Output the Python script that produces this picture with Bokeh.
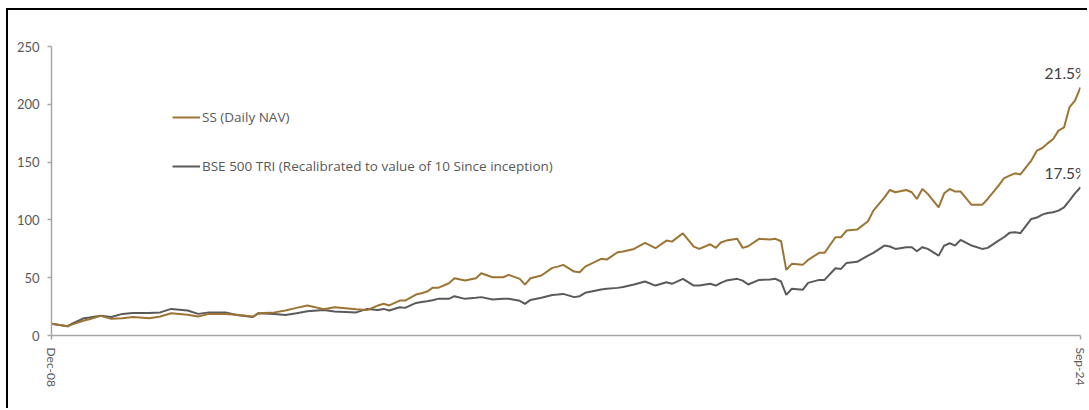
from datetime import datetime
import pandas as pd
from bokeh.plotting import figure
from bokeh.models import (Range1d, FixedTicker, DatetimeTickFormatter, Legend, LegendItem,
                          Label, ColumnDataSource)
from bokeh.embed import file_html
from bokeh.resources import INLINE

# ---- data ----
dates = ["2008-12", "2009-03", "2009-04", "2009-06", "2009-07", "2009-09", "2009-11",
         "2010-01", "2010-03", "2010-06", "2010-08", "2010-10", "2011-01", "2011-03",
         "2011-05", "2011-08", "2011-10", "2012-01", "2012-02", "2012-05", "2012-07",
         "2012-09", "2012-11", "2013-02", "2013-04", "2013-08", "2013-10", "2013-12",
         "2014-01", "2014-02", "2014-04", "2014-05", "2014-07", "2014-08", "2014-09",
         "2014-10", "2014-11", "2015-01", "2015-02", "2015-04", "2015-06", "2015-07",
         "2015-09", "2015-11", "2015-12", "2016-02", "2016-03", "2016-04", "2016-06",
         "2016-08", "2016-09", "2016-10", "2016-12", "2017-01", "2017-02", "2017-05",
         "2017-06", "2017-08", "2017-09", "2017-11", "2018-01", "2018-03", "2018-05",
         "2018-06", "2018-08", "2018-10", "2018-11", "2019-01", "2019-02", "2019-03",
         "2019-04", "2019-06", "2019-07", "2019-08", "2019-10", "2019-12", "2020-01",
         "2020-02", "2020-03", "2020-04", "2020-06", "2020-07", "2020-09", "2020-10",
         "2020-12", "2021-01", "2021-02", "2021-04", "2021-06", "2021-07", "2021-09",
         "2021-10", "2021-11", "2022-01", "2022-02", "2022-03", "2022-04", "2022-05",
         "2022-07", "2022-08", "2022-09", "2022-10", "2022-11", "2023-01", "2023-03",
         "2023-04", "2023-06", "2023-07", "2023-08", "2023-09", "2023-10", "2023-12",
         "2024-01", "2024-02", "2024-03", "2024-04", "2024-05", "2024-06", "2024-07",
         "2024-08", "2024-09"]

ss_nav = [10.1, 8.1, 9.8, 13.0, 14.0, 17.0, 14.4,
          15.0, 16.0, 15.0, 16.5, 19.3, 18.0, 16.4,
          18.7, 18.7, 18.0, 16.4, 19.3, 20.0, 21.6,
          23.9, 26.0, 22.8, 24.5, 22.8, 22.0, 26.0,
          27.4, 26.0, 30.2, 30.2, 35.4, 36.6, 38.0,
          41.2, 41.2, 45.2, 49.5, 47.5, 49.5, 53.9,
          50.4, 50.4, 52.4, 49.0, 44.0, 49.5, 51.9,
          58.5, 59.6, 61.1, 55.3, 54.7, 59.6, 66.3,
          65.7, 72.0, 72.6, 74.9, 80.1, 75.5, 82.1,
          81.2, 88.4, 76.9, 74.9, 78.9, 75.8, 80.4,
          82.1, 83.6, 75.8, 77.2, 83.6, 83.0, 83.6,
          81.5, 56.8, 62.0, 61.1, 65.4, 71.5, 71.5,
          85.0, 85.0, 90.8, 91.6, 98.8, 108.0, 119.5,
          125.9, 123.9, 125.9, 123.9, 118.1, 126.8, 122.5,
          110.9, 123.0, 126.8, 124.5, 124.5, 113.0, 113.0,
          118.1, 129.6, 136.0, 138.3, 140.3, 139.3, 151.3,
          159.9, 162.2, 166.2, 170.0, 177.2, 180.0, 197.3,
          203.1, 214.6]

bse500_tri = [10.1, 8.0, 10.6, 15.0, 15.5, 17.0, 16.0,
              18.7, 19.5, 19.5, 20.0, 23.0, 21.6, 18.7,
              20.0, 20.0, 17.7, 16.0, 19.3, 18.7, 17.7,
              19.3, 21.0, 22.0, 20.7, 20.0, 23.0, 22.0,
              23.0, 21.6, 24.5, 23.9, 28.2, 29.0, 29.7,
              30.5, 31.7, 31.7, 34.0, 31.7, 32.6, 33.2,
              31.1, 31.7, 31.7, 30.0, 27.4, 30.8, 32.6,
              35.1, 35.5, 36.0, 33.2, 34.0, 36.9, 39.8,
              40.5, 41.2, 42.0, 44.1, 46.7, 43.2, 46.1,
              44.7, 49.0, 43.2, 43.2, 44.7, 43.2, 45.5,
              47.5, 49.0, 47.5, 44.1, 48.1, 48.5, 49.0,
              46.7, 35.2, 40.4, 39.5, 45.5, 48.1, 48.1,
              58.2, 57.6, 62.8, 63.7, 69.1, 71.5, 77.8,
              77.0, 74.9, 76.4, 76.4, 72.9, 76.4, 74.9,
              69.1, 77.8, 79.8, 77.8, 82.7, 77.8, 74.9,
              75.8, 82.1, 85.0, 88.8, 89.4, 88.5, 100.8,
              102.0, 104.6, 106.0, 106.6, 108.0, 110.9, 116.7,
              123.0, 128.2]

series_names = ["SS (Daily NAV)", "BSE 500 TRI (Recalibrated to value of 10 Since inception)"]
end_labels = ["21.5%", "17.5%"]
x_tick_dates = ["2008-12", "2024-09"]
y_ticks = [0, 50, 100, 150, 200, 250]

GOLD = "#9C7434"
GREY = "#5A5A5A"
TXT = "#595959"
FONT = "Lato"

x = pd.to_datetime(dates)
src = ColumnDataSource(dict(x=x, ss=ss_nav, bse=bse500_tri))

p = figure(width=1081, height=400, x_axis_type="datetime",
           output_backend="svg", toolbar_location=None,
           min_border_left=43, min_border_right=9, min_border_top=36, min_border_bottom=75)
p.styles = {"margin-left": "6px", "margin-top": "8px",
            "border-top": "2px solid #000000", "border-left": "2px solid #000000"}
p.x_range = Range1d(pd.Timestamp(x_tick_dates[0]), pd.Timestamp(x_tick_dates[1]))
p.y_range = Range1d(0, 250)
p.outline_line_color = None
p.grid.visible = False
p.background_fill_color = "white"
p.border_fill_color = "white"

r_bse = p.line("x", "bse", source=src, line_color=GREY, line_width=2)
r_ss = p.line("x", "ss", source=src, line_color=GOLD, line_width=2)

# axes
tick_ms = [pd.Timestamp(d).value / 1e6 for d in x_tick_dates]
p.xaxis.ticker = FixedTicker(ticks=tick_ms)
fmt = "%b-%y"
p.xaxis.formatter = DatetimeTickFormatter(years=fmt, months=fmt, days=fmt, hours=fmt,
                                          minutes=fmt, seconds=fmt, milliseconds=fmt,
                                          microseconds=fmt, minsec=fmt, hourmin=fmt)
p.xaxis.major_label_orientation = "vertical"
p.yaxis.ticker = FixedTicker(ticks=y_ticks)
for ax in (p.xaxis[0], p.yaxis[0]):
    ax.axis_line_color = "#A6A6A6"
    ax.axis_line_width = 1.5
    ax.major_tick_line_color = "#A6A6A6"
    ax.major_tick_line_width = 1.5
    ax.major_tick_out = 4
    ax.major_tick_in = 0
    ax.minor_tick_line_color = None
    ax.major_label_text_color = TXT
    ax.major_label_text_font = FONT
    ax.major_label_standoff = 8
p.yaxis.major_label_text_font_size = "13px"
p.xaxis.major_label_text_font_size = "12px"

# legend
legend = Legend(items=[LegendItem(label=series_names[0], renderers=[r_ss]),
                       LegendItem(label=series_names[1], renderers=[r_bse])],
                location=(121, 159), orientation="vertical")
legend.border_line_color = None
legend.background_fill_alpha = 0
legend.padding = 0
legend.margin = 0
legend.spacing = 29
legend.glyph_width = 28
legend.glyph_height = 20
legend.label_height = 20
legend.label_standoff = 2
legend.label_text_font = "Open Sans"
legend.label_text_font_size = "13.5px"
legend.label_text_color = TXT
p.add_layout(legend, "center")

# end-of-series labels (kept fully inside the page)
end_x = x[-1]
for val, txt in ((ss_nav[-1], end_labels[0]), (bse500_tri[-1], end_labels[1])):
    p.add_layout(Label(x=end_x, y=val, text=txt, x_offset=7, y_offset=14,
                       text_align="right", text_baseline="middle",
                       text_font=FONT, text_font_size="15.5px", text_color="#404040"))

open("out.html", "w").write(file_html(p, INLINE))
